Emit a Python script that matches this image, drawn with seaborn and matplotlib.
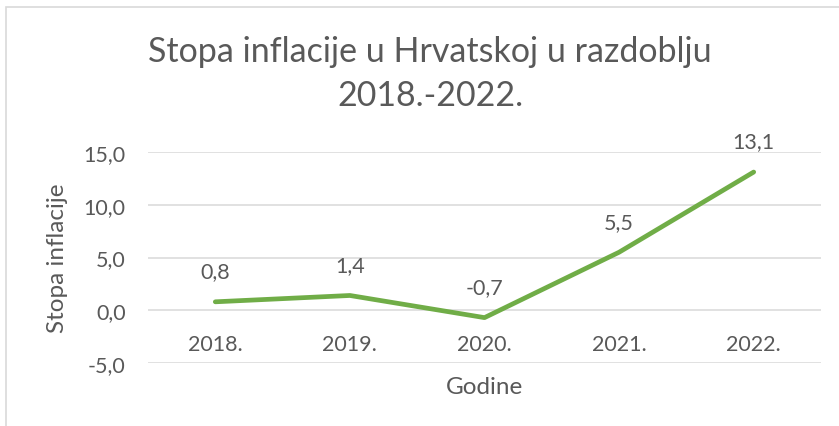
import numpy as np
import pandas as pd
import matplotlib
matplotlib.use('Agg')
import matplotlib.pyplot as plt
import matplotlib.ticker as mticker
from matplotlib.patches import Rectangle
import seaborn as sns

years = ['2018.', '2019.', '2020.', '2021.', '2022.']
inflation = [0.8, 1.4, -0.7, 5.5, 13.1]
y_ticks = [-5, 0, 5, 10, 15]

TEXT_COLOR = '#595959'
GRID_COLOR = '#D9D9D9'
LINE_COLOR = '#70AD47'
FONT = 'Lato'


def comma(v, pos=None):
    return f'{v:.1f}'.replace('.', ',')


sns.set_theme(style='white')
plt.rcParams['font.family'] = [FONT, 'DejaVu Sans']

df = pd.DataFrame({'Godine': years, 'Stopa inflacije': inflation})

fig = plt.figure(figsize=(8.39, 4.27), dpi=100)
ax = fig.add_axes([148/839, 1-364/427, (821-148)/839, (364-153)/427])

# chart frame like excel
fig.patches.append(Rectangle((6/839, -0.1), 1.2, 1.1 - 8/427, transform=fig.transFigure,
                             fill=False, edgecolor=GRID_COLOR, linewidth=1.2, zorder=0))

sns.lineplot(data=df, x='Godine', y='Stopa inflacije', sort=False, ax=ax,
             color=LINE_COLOR, linewidth=3.4, solid_capstyle='round', zorder=3)

for i, v in enumerate(inflation):
    ax.annotate(comma(v), (i, v), xytext=(0, 22), textcoords='offset points',
                ha='center', va='center', fontsize=15.5, color=TEXT_COLOR,
                annotation_clip=False)

ax.set_xlim(-0.5, len(years) - 0.5)
ax.set_ylim(min(y_ticks), max(y_ticks))
ax.set_yticks(y_ticks)
ax.yaxis.set_major_formatter(mticker.FuncFormatter(comma))
ax.grid(axis='y', color=GRID_COLOR, linewidth=1.1)
ax.set_axisbelow(True)

for s in ['top', 'right', 'left']:
    ax.spines[s].set_visible(False)
ax.spines['bottom'].set_position(('data', 0))
ax.spines['bottom'].set_visible(False)

ax.tick_params(axis='both', length=0, labelsize=15.5, labelcolor=TEXT_COLOR)
ax.tick_params(axis='x', pad=17)
ax.tick_params(axis='y', pad=16)

ax.set_xlabel('Godine', fontsize=17.5, color=TEXT_COLOR)
ax.set_ylabel('Stopa inflacije', fontsize=17.5, color=TEXT_COLOR, va='center')
ax.xaxis.set_label_coords(0.5, -0.062)
ax.yaxis.set_label_coords((58 - 148) / 673, 0.5)

fig.suptitle('Stopa inflacije u Hrvatskoj u razdoblju\n2018.-2022.', x=430/839, y=1-36/427,
             va='top', fontsize=24.5, color=TEXT_COLOR, linespacing=1.45)

plt.savefig('out.png', dpi=100)
